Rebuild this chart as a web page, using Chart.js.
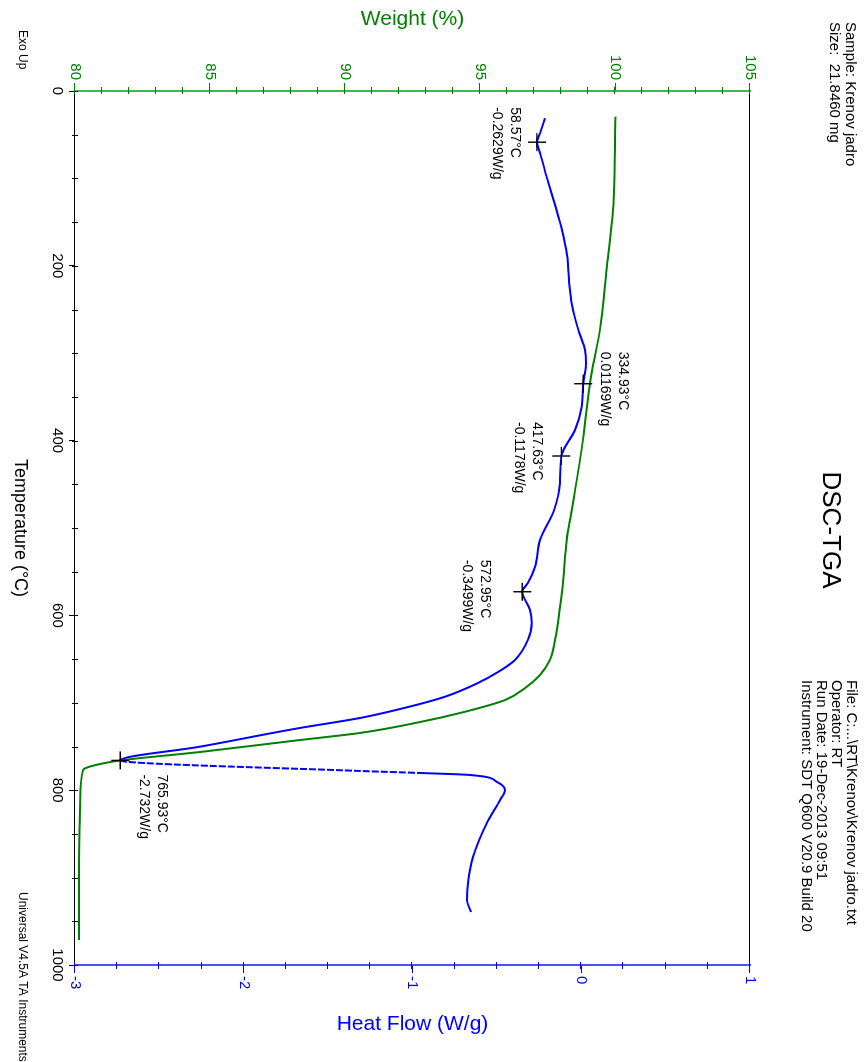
<!DOCTYPE html>
<html>
<head>
<meta charset="utf-8">
<title>DSC-TGA</title>
<script src="https://cdn.jsdelivr.net/npm/chart.js@4.4.0/dist/chart.umd.min.js"></script>
<style>
  html, body { margin: 0; padding: 0; background: #fff; overflow: hidden; width: 867px; height: 1062px; }
  /* the instrument plot is laid out landscape and turned a quarter clockwise */
  #wrap { position: absolute; left: 867px; top: 0; width: 1062px; height: 867px;
          transform: rotate(90deg); transform-origin: 0 0; }
  canvas { display: block; }
</style>
</head>
<body>
<div id="wrap"><canvas id="c" width="1062" height="867"></canvas></div>
<script>
// TGA trace: temperature (°C) and weight (%)
const tgaTemp   = [29.4, 136.2, 200.0, 273.5, 334.1, 400.0, 479.4, 513.7, 562.9, 590.4, 628.1, 651.0,
                   668.2, 683.1, 696.8, 711.7, 722.0, 734.5, 742.6, 756.3, 766.0, 772.9, 776.9, 811.2,
                   891.3, 971.4];
const tgaWeight = [100.02, 99.93, 99.70, 99.44, 99.07, 98.81, 98.40, 98.21, 98.07, 97.96, 97.78, 97.59,
                   97.22, 96.67, 95.93, 94.26, 92.78, 90.56, 88.33, 84.63, 81.67, 80.56, 80.30, 80.19,
                   80.15, 80.15];

// DSC trace: temperature (°C) and heat flow (W/g)
const dscTemp     = [31.2, 48.1, 58.57, 70.9, 98.1, 133.9, 159.0, 187.6, 216.2, 244.9, 273.5, 296.3,
                     311.2, 334.93, 361.2, 387.9, 417.63, 448.5, 479.4, 513.7, 544.6, 562.9, 572.95,
                     593.8, 608.7, 628.1, 651.0, 664.8, 677.3, 693.0, 705.7, 717.4, 728.8, 750.2,
                     765.93, 778.0, 780.3, 782.6, 790.6, 799.8, 811.2, 837.5, 876.4, 906.2, 925.6, 939.4];
const dscHeatFlow = [-0.215, -0.244, -0.2629, -0.244, -0.205, -0.150, -0.114, -0.084, -0.073, -0.055,
                     -0.017, 0.022, 0.028, 0.01169, 0.003, -0.037, -0.1178, -0.126, -0.161, -0.244,
                     -0.274, -0.316, -0.3499, -0.304, -0.294, -0.316, -0.393, -0.493, -0.612, -0.807,
                     -1.044, -1.311, -1.667, -2.259, -2.732, -1.311, -0.956, -0.659, -0.499, -0.452,
                     -0.481, -0.559, -0.641, -0.671, -0.677, -0.653];

// marked peaks on the heat-flow curve
const peakTemp     = [58.57, 334.93, 417.63, 572.95, 765.93];
const peakHeatFlow = [-0.2629, 0.01169, -0.1178, -0.3499, -2.732];

// axis ranges and tick steps
const tempRange   = [0, 1000];
const weightRange = [80, 105];
const heatRange   = [-3, 1];
const tempStep = 200, weightStep = 5, heatStep = 1;

// header text
const sampleLines = ['Sample: Krenov jadro', 'Size:  21.8460 mg'];
const fileLines = ['File: C:...\\RT\\Krenov\\Krenov jadro.txt', 'Operator: RT',
                   'Run Date: 19-Dec-2013 09:51', 'Instrument: SDT Q600 V20.9 Build 20'];

const FONT = "'Liberation Sans', Arial, sans-serif";
const GREEN = '#008000', BLUE = '#0000ff';

// placement of each peak label relative to its cross: [dx to text start, dy of first line]
const peakLabelOffsets = [[-35, 22], [-32, -40], [-34, 25], [-32, 37], [14, -42]];
const LINE_GAP = 18;

function pairs(xs, ys) { return xs.map((v, i) => ({ x: v, y: ys[i] })); }

function drawText(ctx, s, x, y, size, color, align, angle) {
  ctx.save();
  ctx.translate(x, y);
  if (angle) ctx.rotate(angle);
  ctx.font = size + 'px ' + FONT;
  ctx.fillStyle = color;
  ctx.textAlign = align || 'left';
  ctx.textBaseline = 'middle';
  ctx.fillText(s, 0, 0);
  ctx.restore();
}

function minorTicks(ctx, scale, from, to, step, color, a, b, horizontal) {
  ctx.strokeStyle = color;
  ctx.lineWidth = 1;
  ctx.beginPath();
  for (let v = from; v <= to + 1e-9; v += step) {
    const p = Math.round(scale.getPixelForValue(v)) + 0.5;
    if (horizontal) { ctx.moveTo(p, a); ctx.lineTo(p, b); }
    else { ctx.moveTo(a, p); ctx.lineTo(b, p); }
  }
  ctx.stroke();
}

const decor = {
  id: 'decor',
  afterDraw(chart) {
    const { ctx, chartArea: a, scales } = chart;
    const sx = scales.x, sw = scales.yW, sh = scales.yH;
    ctx.save();

    // upper frame edge
    ctx.strokeStyle = '#000';
    ctx.lineWidth = 1;
    ctx.beginPath();
    ctx.moveTo(a.left, a.top + 0.5);
    ctx.lineTo(a.right, a.top + 0.5);
    ctx.stroke();

    // minor ticks
    minorTicks(ctx, sx, tempRange[0], tempRange[1], 50, '#000', a.bottom - 3, a.bottom + 3, true);
    minorTicks(ctx, sw, weightRange[0], weightRange[1], 1, GREEN, a.left - 4, a.left + 3, false);
    minorTicks(ctx, sh, heatRange[0], heatRange[1], 0.25, BLUE, a.right - 3, a.right + 4, false);

    // title and header
    drawText(ctx, 'DSC-TGA', 530, 37, 26, '#000', 'center');
    sampleLines.forEach((s, i) => drawText(ctx, s, 22, 17 + i * 16, 15, '#000', 'left'));
    fileLines.forEach((s, i) => drawText(ctx, s, 680, 16 + i * 15, 15, '#000', 'left'));

    // axis titles
    drawText(ctx, 'Weight (%)', 19, (a.top + a.bottom) / 2, 21, GREEN, 'center', -Math.PI / 2);
    drawText(ctx, 'Heat Flow (W/g)', 1024, (a.top + a.bottom) / 2, 21, BLUE, 'center', -Math.PI / 2);
    drawText(ctx, 'Temperature (°C)', (a.left + a.right) / 2, 847, 18, '#000', 'center');

    // footer notes
    drawText(ctx, 'Exo Up', 30, 845, 12, '#000', 'left');
    drawText(ctx, 'Universal V4.5A TA Instruments', 892, 845, 12, '#000', 'left');

    // peak labels
    peakTemp.forEach((t, i) => {
      const px = sx.getPixelForValue(t);
      const py = sh.getPixelForValue(peakHeatFlow[i]);
      const [dx, dy] = peakLabelOffsets[i];
      drawText(ctx, t + '°C', px + dx, py + dy, 14, '#000', 'left');
      drawText(ctx, peakHeatFlow[i] + 'W/g', px + dx, py + dy + LINE_GAP, 14, '#000', 'left');
    });

    ctx.restore();
  }
};

const plainLabel = v => String(v);
// the fast return after the large endotherm is sampled sparsely and shows broken
const minT = peakTemp[peakTemp.length - 1];
const brokenStretch = c => (c.p0.parsed.x >= minT && c.p1.parsed.x <= 780.3) ? [7, 2] : undefined;

new Chart(document.getElementById('c'), {
  type: 'line',
  data: {
    datasets: [
      {
        label: 'Peaks',
        data: pairs(peakTemp, peakHeatFlow),
        yAxisID: 'yH',
        showLine: false,
        pointStyle: 'cross',
        pointRadius: 9,
        pointBorderWidth: 1.4,
        pointBorderColor: '#000',
        order: 0
      },
      {
        label: 'Heat Flow',
        data: pairs(dscTemp, dscHeatFlow),
        yAxisID: 'yH',
        borderColor: BLUE,
        borderWidth: 2,
        pointRadius: 0,
        cubicInterpolationMode: 'monotone',
        segment: { borderDash: brokenStretch },
        order: 1
      },
      {
        label: 'Weight',
        data: pairs(tgaTemp, tgaWeight),
        yAxisID: 'yW',
        borderColor: GREEN,
        borderWidth: 2,
        pointRadius: 0,
        cubicInterpolationMode: 'monotone',
        order: 2
      }
    ]
  },
  options: {
    responsive: false,
    animation: false,
    devicePixelRatio: 1,
    layout: { padding: { top: 117, left: 0, right: 0, bottom: 0 } },
    plugins: { legend: { display: false }, tooltip: { enabled: false }, title: { display: false } },
    elements: { line: { fill: false } },
    scales: {
      x: {
        type: 'linear', position: 'bottom',
        min: tempRange[0], max: tempRange[1],
        ticks: { stepSize: tempStep, callback: plainLabel, color: '#000', font: { family: FONT, size: 15 }, padding: 3, maxRotation: 0 },
        grid: { drawOnChartArea: false, drawTicks: true, tickLength: 6, color: '#000' },
        border: { display: true, color: '#000', width: 1 },
        afterFit(s) { s.height = 75; }
      },
      yW: {
        type: 'linear', position: 'left',
        min: weightRange[0], max: weightRange[1],
        ticks: { stepSize: weightStep, callback: plainLabel, color: GREEN, font: { family: FONT, size: 15 }, padding: 3 },
        grid: { drawOnChartArea: false, drawTicks: true, tickLength: 8, color: GREEN },
        border: { display: true, color: '#4caf50', width: 2 },
        afterFit(s) { s.width = 91; }
      },
      yH: {
        type: 'linear', position: 'right',
        min: heatRange[0], max: heatRange[1],
        ticks: { stepSize: heatStep, callback: plainLabel, color: BLUE, font: { family: FONT, size: 15 }, padding: 3 },
        grid: { drawOnChartArea: false, drawTicks: true, tickLength: 8, color: BLUE },
        border: { display: true, color: '#4f4fff', width: 2 },
        afterFit(s) { s.width = 97; }
      }
    }
  },
  plugins: [decor]
});
</script>
</body>
</html>
